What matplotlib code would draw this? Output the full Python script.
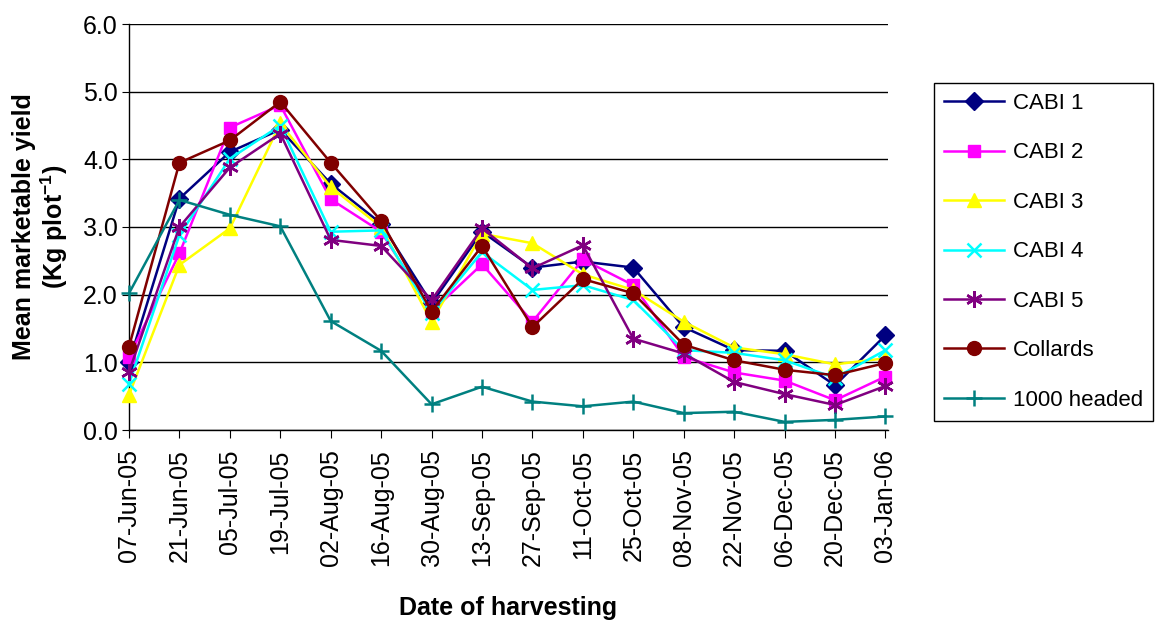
import matplotlib
matplotlib.use("Agg")
import matplotlib.pyplot as plt

plt.rcParams['font.family'] = ['Liberation Sans', 'DejaVu Sans']
plt.rcParams['mathtext.default'] = 'regular'

# Harvest dates (category axis)
dates = ['07-Jun-05', '21-Jun-05', '05-Jul-05', '19-Jul-05', '02-Aug-05', '16-Aug-05',
         '30-Aug-05', '13-Sep-05', '27-Sep-05', '11-Oct-05', '25-Oct-05', '08-Nov-05',
         '22-Nov-05', '06-Dec-05', '20-Dec-05', '03-Jan-06']

# Mean marketable yield per variety (Kg plot-1)
cabi1 = [1.00, 3.42, 4.11, 4.44, 3.64, 3.05, 1.87, 2.93, 2.40, 2.49, 2.40, 1.52, 1.18, 1.17, 0.66, 1.40]
cabi2 = [1.08, 2.61, 4.47, 4.80, 3.41, 2.93, 1.75, 2.45, 1.60, 2.52, 2.14, 1.08, 0.85, 0.73, 0.44, 0.79]
cabi3 = [0.52, 2.44, 2.98, 4.53, 3.59, 3.00, 1.60, 2.90, 2.76, 2.30, 2.07, 1.60, 1.22, 1.12, 0.97, 1.06]
cabi4 = [0.68, 2.88, 4.01, 4.50, 2.93, 2.95, 1.73, 2.63, 2.07, 2.14, 1.92, 1.18, 1.14, 1.03, 0.77, 1.18]
cabi5 = [0.86, 3.00, 3.88, 4.38, 2.81, 2.72, 1.92, 2.98, 2.39, 2.73, 1.35, 1.13, 0.71, 0.53, 0.37, 0.65]
collards = [1.23, 3.95, 4.28, 4.85, 3.95, 3.09, 1.75, 2.72, 1.52, 2.23, 2.02, 1.26, 1.03, 0.89, 0.81, 0.99]
headed = [2.02, 3.40, 3.18, 3.01, 1.61, 1.17, 0.38, 0.64, 0.42, 0.35, 0.42, 0.25, 0.27, 0.12, 0.15, 0.20]

series = [
    ("CABI 1", cabi1, "#000080", "D", 9),
    ("CABI 2", cabi2, "#FF00FF", "s", 9),
    ("CABI 3", cabi3, "#FFFF00", "^", 10),
    ("CABI 4", cabi4, "#00FFFF", "x", 10),
    ("CABI 5", cabi5, "#800080", (6, 2, 0), 12),
    ("Collards", collards, "#800000", "o", 10),
    ("1000 headed", headed, "#008080", "+", 12),
]

fig = plt.figure(figsize=(11.59, 6.3), dpi=100)
ax = fig.add_axes([129 / 1159, 1 - 430 / 630, (888 - 129) / 1159, (430 - 24) / 630])

x = list(range(len(dates)))
for name, vals, color, marker, ms in series:
    ax.plot(x, vals, color=color, marker=marker, markersize=ms, linewidth=1.8,
            markeredgewidth=1.8 if marker in ("x", "+", (6, 2, 0)) else 1,
            label=name, clip_on=False, zorder=3)

ax.set_ylim(0, 6)
ax.set_yticks([0, 1, 2, 3, 4, 5, 6])
ax.set_yticklabels([f"{v:.1f}" for v in range(7)])
ax.set_xlim(0, 15.05)
ax.set_xticks(x)
ax.set_xticklabels(dates, rotation=90)

ax.yaxis.grid(True, color="black", linewidth=1)
ax.set_axisbelow(True)
for side in ("top", "right"):
    ax.spines[side].set_visible(False)
ax.spines["left"].set_linewidth(1)
ax.spines["bottom"].set_linewidth(1)
ax.tick_params(axis="y", labelsize=18, length=5, pad=3)
ax.tick_params(axis="x", labelsize=18, length=6, pad=8)

fig.text(41 / 1159, 1 - 227 / 630, "Mean marketable yield\n(Kg plot$^{-1}$)",
         rotation=90, ha="center", va="center", fontsize=18, fontweight="bold",
         linespacing=1.1)
fig.text(508 / 1159, 1 - 608 / 630, "Date of harvesting", ha="center", va="center",
         fontsize=18, fontweight="bold")

leg = fig.legend(loc="upper left", bbox_to_anchor=(934 / 1159, 1 - 83 / 630),
                 fontsize=16, frameon=True, fancybox=False, edgecolor="black",
                 framealpha=1, handlelength=2.7, labelspacing=1.28, borderpad=0.45,
                 handletextpad=0.4, borderaxespad=0)
leg.get_frame().set_linewidth(1)

fig.savefig("out.png", dpi=100)
